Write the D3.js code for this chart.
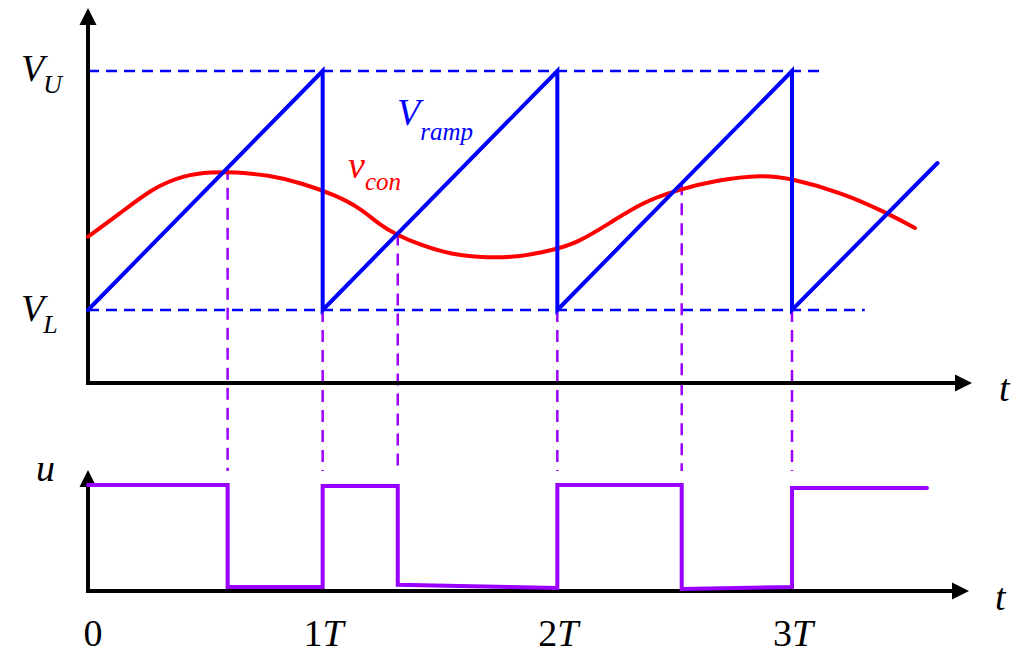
<!doctype html>
<html>

<head>
	<title>PWM Ramp Comparison</title>
	<script src="https://d3js.org/d3.v7.min.js"></script>
	<style>
		body { margin: 0; background: #fff; }
	</style>
</head>

<body>

	<script>

		// time in units of T, voltage normalised: 0 = V_L, 1 = V_U
		var rampT = [0, 1, 1, 2, 2, 3, 3, 3.62];
		var rampV = [0, 1, 0, 1, 0, 1, 0, 0.615];

		var conT = [0, 0.128, 0.273, 0.413, 0.528, 0.626, 0.767, 0.912, 1.053, 1.159, 1.244, 1.317, 1.415, 1.555, 1.7, 1.841, 1.982, 2.084, 2.224, 2.365, 2.51, 2.68, 2.876, 2.991, 3.217, 3.405, 3.524];
		var conV = [0.307, 0.397, 0.51, 0.565, 0.577, 0.577, 0.565, 0.531, 0.481, 0.427, 0.356, 0.314, 0.272, 0.23, 0.218, 0.222, 0.251, 0.28, 0.364, 0.452, 0.502, 0.544, 0.565, 0.552, 0.49, 0.406, 0.343];

		// switching instants: crossings of v_con with the ramp, and ramp resets
		var switchT = [0.595, 1, 1.32, 2, 2.53, 3];
		var switchIsReset = [false, true, false, true, false, true];

		var uT = [0, 0.595, 0.595, 1, 1, 1.32, 1.32, 2, 2, 2.53, 2.53, 3, 3, 3.575];
		var uV = [1, 1, 0.02, 0.02, 0.99, 0.99, 0.04, 0.01, 1, 1, 0, 0.02, 0.97, 0.97];

		var tickT = [0, 1, 2, 3];
		var tickNum = ["0", "1", "2", "3"];

		var width = 1029;
		var height = 653;
		var serif = "'Liberation Serif', 'Times New Roman', serif";

		var x = d3.scaleLinear().domain([0, 3]).range([88, 792]);
		var yTop = d3.scaleLinear().domain([0, 1]).range([310, 71]);
		var yBot = d3.scaleLinear().domain([0, 1]).range([589, 485]);

		var blue = "#0000ff";
		var red = "#ff0000";
		var purple = "#9900ff";

		var svg = d3.select("body")
			.append("svg")
			.attr("width", width)
			.attr("height", height)
			.style("font-family", serif);

		svg.append("defs")
			.append("marker")
			.attr("id", "arrow")
			.attr("markerUnits", "userSpaceOnUse")
			.attr("markerWidth", 20)
			.attr("markerHeight", 20)
			.attr("viewBox", "0 -10 20 20")
			.attr("refX", 1)
			.attr("refY", 0)
			.attr("orient", "auto-start-reverse")
			.append("path")
			.attr("d", "M0,-8.5L17,0L0,8.5Z")
			.attr("fill", "#000");

		// level lines V_U and V_L
		svg.append("line")
			.attr("x1", x(0)).attr("x2", x(3.14))
			.attr("y1", yTop(1)).attr("y2", yTop(1))
			.attr("stroke", blue).attr("stroke-width", 2.5)
			.attr("stroke-dasharray", "11,7");
		svg.append("line")
			.attr("x1", x(0)).attr("x2", x(3.31))
			.attr("y1", yTop(0)).attr("y2", yTop(0))
			.attr("stroke", blue).attr("stroke-width", 2.5)
			.attr("stroke-dasharray", "11,7");

		// dashed drop lines from the switching instants
		svg.selectAll(".drop")
			.data(switchT)
			.enter()
			.append("line")
			.attr("class", "drop")
			.attr("x1", function (d) { return x(d); })
			.attr("x2", function (d) { return x(d); })
			.attr("y1", function (d, i) { return switchIsReset[i] ? yTop(0) : yTop(d % 1); })
			.attr("y2", yBot(1) - 14)
			.attr("stroke", purple)
			.attr("stroke-width", 2.5)
			.attr("stroke-dasharray", "12,8");

		// axes
		svg.append("path")
			.attr("d", "M" + x(0) + ",24L" + x(0) + ",383L956,383")
			.attr("fill", "none").attr("stroke", "#000").attr("stroke-width", 4)
			.attr("marker-start", "url(#arrow)")
			.attr("marker-end", "url(#arrow)");
		svg.append("path")
			.attr("d", "M" + x(0) + ",486L" + x(0) + ",591L953,591")
			.attr("fill", "none").attr("stroke", "#000").attr("stroke-width", 4)
			.attr("marker-start", "url(#arrow)")
			.attr("marker-end", "url(#arrow)");

		// v_con
		var conLine = d3.line()
			.x(function (d) { return x(d[0]); })
			.y(function (d) { return yTop(d[1]); })
			.curve(d3.curveBasis);
		svg.append("path")
			.datum(d3.zip(conT, conV))
			.attr("d", conLine)
			.attr("fill", "none").attr("stroke", red).attr("stroke-width", 4)
			.attr("stroke-linecap", "round");

		// ramp
		var straight = d3.line()
			.x(function (d) { return x(d[0]); })
			.y(function (d) { return yTop(d[1]); });
		svg.append("path")
			.datum(d3.zip(rampT, rampV))
			.attr("d", straight)
			.attr("fill", "none").attr("stroke", blue).attr("stroke-width", 4)
			.attr("stroke-linecap", "round");

		// u
		var uLine = d3.line()
			.x(function (d) { return x(d[0]); })
			.y(function (d) { return yBot(d[1]); });
		svg.append("path")
			.datum(d3.zip(uT, uV))
			.attr("d", uLine)
			.attr("fill", "none").attr("stroke", purple).attr("stroke-width", 4)
			.attr("stroke-linecap", "round");

		// tick labels under the bottom axis
		var ticks = svg.selectAll(".tick")
			.data(tickT)
			.enter()
			.append("text")
			.attr("class", "tick")
			.attr("x", function (d) { return x(d) + (d === 0 ? 5 : 1); })
			.attr("y", 646)
			.attr("text-anchor", "middle")
			.attr("font-size", 38);
		ticks.append("tspan").text(function (d, i) { return tickNum[i]; });
		ticks.filter(function (d) { return d > 0; })
			.append("tspan").attr("font-style", "italic").text("T");

		// axis names
		svg.append("text").attr("x", 999).attr("y", 401)
			.attr("font-size", 38).attr("font-style", "italic").text("t");
		svg.append("text").attr("x", 995).attr("y", 610)
			.attr("font-size", 38).attr("font-style", "italic").text("t");
		svg.append("text").attr("x", 36).attr("y", 481)
			.attr("font-size", 38).attr("font-style", "italic").text("u");

		// V_U and V_L
		var vu = svg.append("text").attr("x", 21).attr("y", yTop(1) + 10)
			.attr("font-size", 38).attr("font-style", "italic");
		vu.append("tspan").text("V");
		vu.append("tspan").attr("font-size", 26).attr("dy", 12).attr("dx", -1).text("U");

		var vl = svg.append("text").attr("x", 21).attr("y", yTop(0) + 11)
			.attr("font-size", 38).attr("font-style", "italic");
		vl.append("tspan").text("V");
		vl.append("tspan").attr("font-size", 26).attr("dy", 12).attr("dx", -1).text("L");

		// series labels
		var vr = svg.append("text").attr("x", 397).attr("y", 125)
			.attr("font-size", 38).attr("font-style", "italic").attr("fill", blue);
		vr.append("tspan").text("V");
		vr.append("tspan").attr("font-size", 25).attr("dy", 15).text("ramp");

		var vc = svg.append("text").attr("x", 348).attr("y", 178)
			.attr("font-size", 38).attr("font-style", "italic").attr("fill", red);
		vc.append("tspan").text("v");
		vc.append("tspan").attr("font-size", 25).attr("dy", 12).text("con");

	</script>
</body>

</html>
